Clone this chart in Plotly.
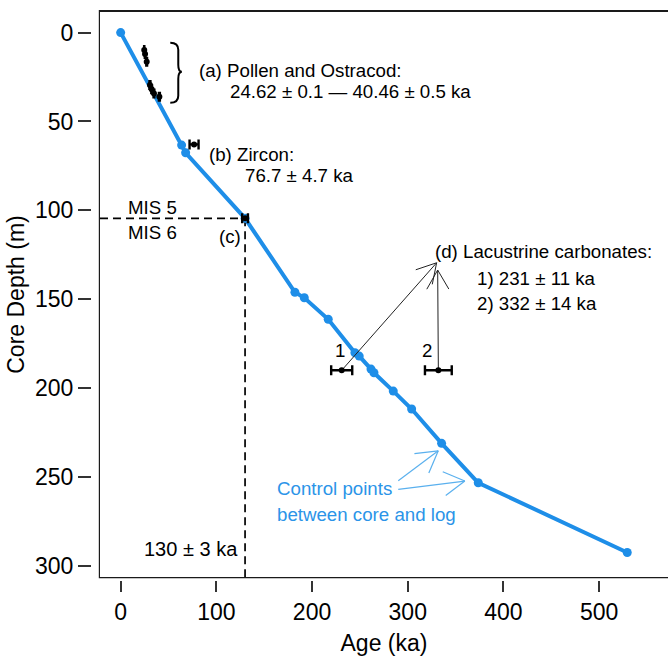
import math
import plotly.graph_objects as go

# ---- data -------------------------------------------------------------
# Core-to-log control points (age in ka, depth in m)
ctrl_age = [0, 63.7, 67.9, 130, 182.1, 191.9, 216.9, 244.8, 249.3, 261.6,
            264.7, 284.9, 304.1, 335.4, 373.7, 529.4]
ctrl_depth = [0, 63.3, 67.6, 104.5, 146.1, 149.2, 161.3, 180.1, 182.0, 189.3,
              191.4, 201.7, 211.8, 231.1, 253.3, 292.5]

# (a) pollen and ostracod ages
pollen_age = [24.62, 25.5, 27.2, 30.6, 32.4, 34.8, 40.46]
pollen_depth = [9.8, 12.0, 16.4, 29.5, 31.9, 34.2, 36.1]
pollen_err = [0.1, 0.3, 0.4, 0.5, 0.4, 0.4, 0.5]

# (b) zircon age
zircon_age = [76.7]
zircon_depth = [62.9]
zircon_err = [4.7]

# (c) MIS 5/6 boundary
mis_age = [130]
mis_depth = [104.5]
mis_err = [3]

# (d) lacustrine carbonates
lac_age = [231, 332]
lac_depth = [190, 190]
lac_err = [11, 14]
lac_labels = ["1", "2"]

x_ticks = [0, 100, 200, 300, 400, 500]
y_ticks = [0, 50, 100, 150, 200, 250, 300]

# ---- layout constants --------------------------------------------------
W, H = 668, 656
M_L, M_R, M_T, M_B = 100, 0, 12, 79
PLOT_W = W - M_L - M_R
PLOT_H = H - M_T - M_B
X_RANGE = [-21.6, 572.0]
Y_RANGE = [306.3, -11.6]          # depth increases downward

SX = PLOT_W / (X_RANGE[1] - X_RANGE[0])   # px per ka
SY = PLOT_H / (Y_RANGE[0] - Y_RANGE[1])   # px per m

BLUE = "#1E8EE8"
TXT_BLUE = "#2B94E8"
ARROW_BLUE = "#5AB0EE"
FONT = "Liberation Sans, Arial, sans-serif"
TXT = 18.7


def arrow_xy(x0, y0, x1, y1, head=22, ang=30):
    """Shaft plus an open two-barb head, built in screen space."""
    px1, py1 = x1 * SX, y1 * SY
    dx, dy = x0 * SX - px1, y0 * SY - py1
    n = math.hypot(dx, dy)
    ux, uy = dx / n, dy / n
    xs, ys = [x0, x1, None], [y0, y1, None]
    for s in (1, -1):
        a = math.radians(ang * s)
        bx = ux * math.cos(a) - uy * math.sin(a)
        by = ux * math.sin(a) + uy * math.cos(a)
        xs += [x1, (px1 + head * bx) / SX, None]
        ys += [y1, (py1 + head * by) / SY, None]
    return xs, ys


fig = go.Figure()

# dashed MIS 5/6 guides
fig.add_trace(go.Scatter(
    x=[X_RANGE[0], mis_age[0], None, mis_age[0], mis_age[0]],
    y=[mis_depth[0], mis_depth[0], None, mis_depth[0], Y_RANGE[0]],
    mode="lines", line=dict(color="black", width=1.7, dash="8px,5px"),
    hoverinfo="skip", showlegend=False))

# age-depth model
fig.add_trace(go.Scatter(
    x=ctrl_age, y=ctrl_depth, mode="lines+markers",
    line=dict(color=BLUE, width=4), marker=dict(color=BLUE, size=9),
    showlegend=False))

# arrows from the carbonate ages to their label
ax, ay = [], []
for (a, d, tx, ty) in [(lac_age[0], lac_depth[0], 330.2, 129.5),
                       (lac_age[1], lac_depth[1], 331.3, 133.6)]:
    xs, ys = arrow_xy(a, d, tx, ty)
    ax += xs
    ay += ys
fig.add_trace(go.Scatter(x=ax, y=ay, mode="lines",
                         line=dict(color="#222222", width=1),
                         hoverinfo="skip", showlegend=False))

# arrows pointing at two control points
bx, by = [], []
for (sx_, sy_, tx, ty) in [(290.1, 252.2, 331.9, 235.3),
                           (290.1, 257.0, 359.7, 252.3)]:
    xs, ys = arrow_xy(sx_, sy_, tx, ty, head=24)
    bx += xs
    by += ys
fig.add_trace(go.Scatter(x=bx, y=by, mode="lines",
                         line=dict(color=ARROW_BLUE, width=1.2),
                         hoverinfo="skip", showlegend=False))

# dated samples with horizontal error bars
for ages, depths, errs in [(pollen_age, pollen_depth, pollen_err),
                           (zircon_age, zircon_depth, zircon_err),
                           (mis_age, mis_depth, mis_err),
                           (lac_age, lac_depth, lac_err)]:
    fig.add_trace(go.Scatter(
        x=ages, y=depths, mode="markers",
        marker=dict(color="black", size=6),
        error_x=dict(type="data", array=errs, color="black",
                     thickness=2.4, width=5),
        showlegend=False))

# curly brace grouping the pollen/ostracod ages
bx0 = 60.2                      # stem position (ka)
top, mid, bot = 5.7, 22.0, 39.4  # depth extent (m)
cx, tx = 8 / SX, 3.6 / SX
cy = 7 / SY
path = (f"M {bx0 - cx},{top} Q {bx0},{top} {bx0},{top + cy} "
        f"L {bx0},{mid - cy} Q {bx0},{mid} {bx0 + tx},{mid} "
        f"Q {bx0},{mid} {bx0},{mid + cy} "
        f"L {bx0},{bot - cy} Q {bx0},{bot} {bx0 - cx},{bot}")
fig.add_shape(type="path", path=path, xref="x", yref="y",
              line=dict(color="black", width=2))

# gap between plot frame and tick marks
fig.add_shape(type="rect", xref="paper", yref="paper", xsizemode="pixel",
              xanchor=0, x0=-9, x1=-1.2, y0=-0.05, y1=1.05,
              fillcolor="white", line=dict(width=0), layer="above")
fig.add_shape(type="rect", xref="paper", yref="paper", ysizemode="pixel",
              yanchor=0, y0=-4, y1=-1.2, x0=-0.05, x1=1.0,
              fillcolor="white", line=dict(width=0), layer="above")


def label(x, y, s, xanchor="left", color="black", size=TXT):
    fig.add_annotation(x=x, y=y, xref="x", yref="y", text=s,
                       showarrow=False, xanchor=xanchor, yanchor="middle",
                       font=dict(family=FONT, size=size, color=color))


label(79.4, 21.3, "(a) Pollen and Ostracod:")
label(112.5, 32.9, "24.62 ± 0.1 — 40.46 ± 0.5 ka")
label(90.2, 68.5, "(b) Zircon:")
label(128.1, 80.4, "76.7 ± 4.7 ka")
label(5.5, 98.2, "MIS 5")
label(5.5, 112.3, "MIS 6")
label(114.2, 114.6, "(c)", xanchor="center")
label(125.0, 290.6, "130 ± 3 ka", xanchor="right", size=20)
label(326.6, 123.0, "(d) Lacustrine carbonates:")
label(370.2, 138.5, "1) 231 ± 11 ka")
label(370.2, 152.6, "2) 332 ± 14 ka")
label(229.5, 178.6, lac_labels[0], xanchor="center")
label(319.7, 178.6, lac_labels[1], xanchor="center")
label(161.2, 256.7, "Control points", color=TXT_BLUE)
label(161.2, 271.2, "between core and log", color=TXT_BLUE)

axis_common = dict(showgrid=False, zeroline=False, showline=True,
                   linecolor="#1a1a1a", linewidth=2, ticks="outside",
                   tickcolor="#333333", tickwidth=1.5,
                   tickfont=dict(family=FONT, size=23, color="black"),
                   automargin=False)

fig.update_xaxes(range=X_RANGE, tickvals=x_ticks, ticklen=13, mirror=True,
                 title=dict(text="Age (ka)", standoff=12,
                            font=dict(family=FONT, size=23, color="black")),
                 **axis_common)
fig.update_yaxes(range=Y_RANGE, tickvals=y_ticks, ticklen=20, mirror=False,
                 title=dict(text="Core Depth (m)", standoff=4,
                            font=dict(family=FONT, size=23, color="black")),
                 **axis_common)

fig.update_layout(width=W, height=H,
                  margin=dict(l=M_L, r=M_R, t=M_T, b=M_B),
                  paper_bgcolor="white", plot_bgcolor="white",
                  showlegend=False)

fig.write_html("out.html")
